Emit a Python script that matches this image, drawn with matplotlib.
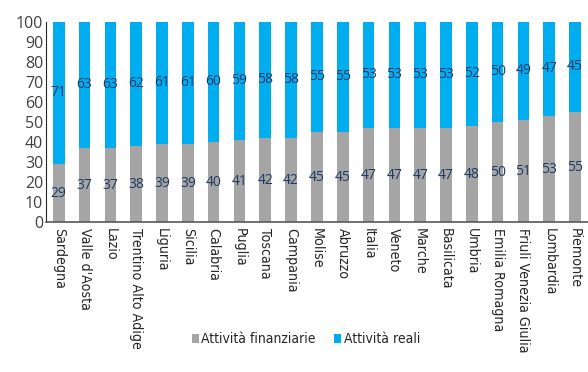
import matplotlib.pyplot as plt
import numpy as np

regioni = ["Sardegna", "Valle d'Aosta", "Lazio", "Trentino Alto Adige", "Liguria",
           "Sicilia", "Calabria", "Puglia", "Toscana", "Campania", "Molise", "Abruzzo",
           "Italia", "Veneto", "Marche", "Basilicata", "Umbria", "Emilia Romagna",
           "Friuli Venezia Giulia", "Lombardia", "Piemonte"]
finanziarie = [29, 37, 37, 38, 39, 39, 40, 41, 42, 42, 45, 45, 47, 47, 47, 47, 48, 50, 51, 53, 55]
reali = [71, 63, 63, 62, 61, 61, 60, 59, 58, 58, 55, 55, 53, 53, 53, 53, 52, 50, 49, 47, 45]

GRIGIO = "#a5a5a5"
BLU = "#00aeef"
NAVY = "#1f3864"

fig = plt.figure(figsize=(5.88, 3.72), dpi=100)
ax = fig.add_axes([0.078, 0.403, 0.922, 0.538])

x = np.arange(len(regioni))
b1 = ax.bar(x, finanziarie, width=0.45, color=GRIGIO, label="Attività finanziarie")
b2 = ax.bar(x, reali, width=0.45, bottom=finanziarie, color=BLU, label="Attività reali")

# etichette al centro di ciascun segmento
for i in range(len(regioni)):
    ax.text(x[i], finanziarie[i] / 2, str(finanziarie[i]), ha="center", va="center",
            color=NAVY, fontsize=10, family="Open Sans")
    ax.text(x[i], finanziarie[i] + reali[i] / 2, str(reali[i]), ha="center", va="center",
            color=NAVY, fontsize=10, family="Open Sans")

ax.set_xlim(-0.5, len(regioni) - 0.5)
ax.set_ylim(0, 100)
ax.set_yticks(range(0, 101, 10))
ax.set_xticks(x)
ax.set_xticklabels(regioni, rotation=270, va="top", ha="center",
                   family="DejaVu Sans", fontstretch="condensed", fontsize=10.2,
                   color="#262626")
for lab in ax.get_yticklabels():
    lab.set_family("Open Sans")
    lab.set_fontsize(11.5)
    lab.set_color("#404040")
ax.tick_params(length=0)
ax.tick_params(axis="y", pad=2)
ax.tick_params(axis="x", pad=4)

for s in ["top", "right"]:
    ax.spines[s].set_visible(False)
ax.spines["left"].set_color("#262626")
ax.spines["bottom"].set_color("#595959")
ax.spines["bottom"].set_linewidth(1.2)

fig.legend(handles=[b1, b2], loc="center", bbox_to_anchor=(0.52, 0.088), ncol=2,
           frameon=False,
           prop={"family": "DejaVu Sans", "stretch": "condensed", "size": 10},
           handlelength=0.55, handleheight=0.55, handletextpad=0.15, columnspacing=1.3,
           labelcolor="#262626")

fig.savefig("out.png", dpi=100)
